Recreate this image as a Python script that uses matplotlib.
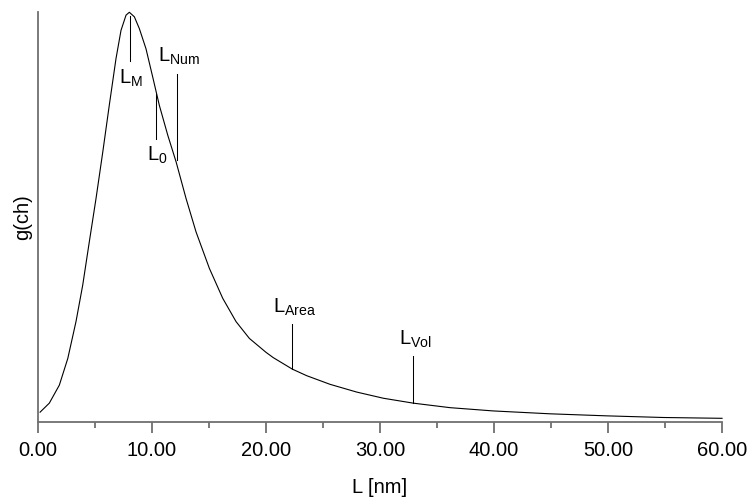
import matplotlib
matplotlib.use('Agg')
import matplotlib.pyplot as plt
from matplotlib.ticker import MultipleLocator, FormatStrFormatter

plt.rcParams['font.family'] = ['Liberation Sans', 'DejaVu Sans']
plt.rcParams['mathtext.fontset'] = 'custom'
plt.rcParams['mathtext.rm'] = 'Liberation Sans'

# Distribution g(ch) (relative units, peak = 1)
L = [0.18, 0.99, 1.87, 2.61, 3.33, 3.92, 4.50, 5.09, 5.68, 6.25, 6.84,
     7.28, 7.72, 8.01, 8.45, 8.89, 9.47, 10.06, 10.64, 11.38, 12.11, 12.98,
     13.86, 15.03, 16.20, 17.37, 18.54, 20.00, 20.64, 22.31, 23.57, 25.61,
     27.96, 30.29, 32.92, 35.26, 36.14, 39.94, 44.91, 49.89, 54.85, 60.00]
g = [0.024, 0.046, 0.090, 0.155, 0.245, 0.334, 0.440, 0.546, 0.659, 0.773,
     0.887, 0.956, 0.993, 1.000, 0.989, 0.960, 0.911, 0.842, 0.773, 0.700,
     0.635, 0.546, 0.464, 0.375, 0.302, 0.245, 0.204, 0.170, 0.157, 0.129,
     0.113, 0.092, 0.073, 0.058, 0.046, 0.038, 0.035, 0.027, 0.020, 0.015,
     0.011, 0.009]

# Characteristic lengths and their marker lines / labels
marks = ['M', '0', 'Num', 'Area', 'Vol']
mark_x = [8.07, 10.32, 12.17, 22.3, 32.9]
mark_y0 = [0.99, 0.80, 0.64, 0.130, 0.046]
mark_y1 = [0.88, 0.69, 0.85, 0.24, 0.16]
label_x = [8.13, 10.44, 12.37, 22.54, 33.1]
label_y = [0.865, 0.678, 0.866, 0.254, 0.176]
label_above = [False, False, True, True, True]

fig = plt.figure(figsize=(7.47, 4.97), dpi=100)
ax = fig.add_axes([0.0509, 0.1509, 0.9157, 0.8244])

ax.plot(L, g, color='black', lw=0.8, clip_on=False)

for name, x, y0, y1, lx, ly, up in zip(marks, mark_x, mark_y0, mark_y1,
                                       label_x, label_y, label_above):
    ax.plot([x, x], [y0, y1], color='black', lw=0.75, clip_on=False)
    ax.text(lx, ly, r'L$_\mathregular{%s}$' % name, fontsize=14.5,
            ha='center', va='bottom' if up else 'top')

ax.set_xlim(0, 60)
ax.set_ylim(0, 1.0)
ax.xaxis.set_major_locator(MultipleLocator(10))
ax.xaxis.set_minor_locator(MultipleLocator(5))
ax.xaxis.set_major_formatter(FormatStrFormatter('%.2f'))
ax.set_yticks([])

for s in ['top', 'right']:
    ax.spines[s].set_visible(False)
for s in ['left', 'bottom']:
    ax.spines[s].set_color('#707070')
    ax.spines[s].set_linewidth(1.3)
ax.tick_params(axis='x', which='major', length=8, width=1.3, color='#707070',
               labelsize=14.5, pad=6)
ax.tick_params(axis='x', which='minor', length=4, width=1.3, color='#707070')

ax.set_xlabel('L [nm]', fontsize=14.5, labelpad=12.5)
ax.set_ylabel('g(ch)', fontsize=14.5, labelpad=4)

fig.savefig('out.png', dpi=100)
